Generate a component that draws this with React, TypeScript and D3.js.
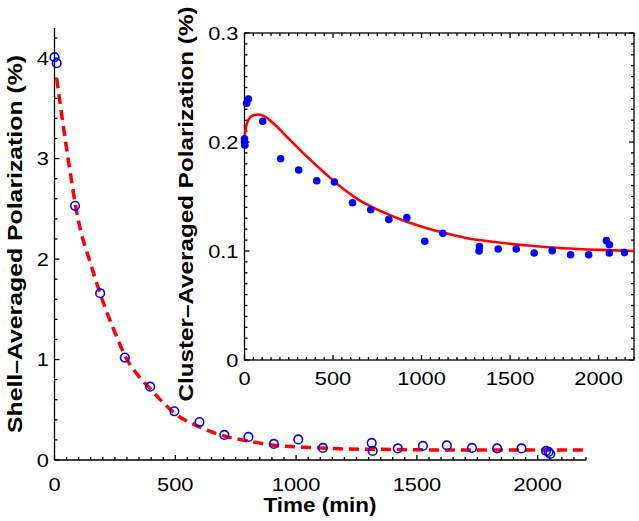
import React from "react";
import * as d3 from "d3";

// Main chart: shell-averaged polarization (open circles) and dashed fit
const mainTime = [0, 9, 85, 189, 291, 396, 496, 600, 703, 803, 908, 1009, 1111, 1313, 1317, 1421, 1525, 1624, 1728, 1832, 1933, 2035, 2045, 2052];
const mainValue = [4.01, 3.95, 2.53, 1.66, 1.02, 0.73, 0.485, 0.378, 0.25, 0.23, 0.16, 0.205, 0.12, 0.17, 0.09, 0.115, 0.14, 0.145, 0.12, 0.115, 0.115, 0.09, 0.08, 0.06];

const mainFitTime = [9, 50, 100, 150, 200, 250, 300, 350, 400, 450, 500, 600, 700, 800, 900, 1000, 1100, 1200, 1400, 1600, 2000, 2200];
const mainFitValue = [3.8, 3.1, 2.37, 1.95, 1.58, 1.27, 1.0, 0.83, 0.7, 0.57, 0.46, 0.33, 0.24, 0.19, 0.15, 0.13, 0.12, 0.11, 0.105, 0.1, 0.1, 0.1];

// Inset: cluster-averaged polarization (filled dots) and solid fit
const insetTime = [0, 0, 2, 12, 22, 103, 204, 306, 408, 508, 610, 713, 815, 917, 1018, 1120, 1327, 1325, 1433, 1535, 1636, 1738, 1842, 1944, 2044, 2061, 2061, 2146];
const insetValue = [0.203, 0.2, 0.197, 0.2355, 0.2394, 0.219, 0.1847, 0.1743, 0.1645, 0.1633, 0.1443, 0.1379, 0.129, 0.1306, 0.109, 0.1162, 0.104, 0.1, 0.1018, 0.1018, 0.0982, 0.1003, 0.0966, 0.0966, 0.1095, 0.1058, 0.0982, 0.0985];

const insetFitTime = [0, 10, 25, 50, 80, 120, 170, 250, 350, 450, 550, 600, 650, 700, 750, 800, 850, 950, 1050, 1150, 1250, 1400, 1600, 1800, 2000, 2200];
const insetFitValue = [0.205, 0.215, 0.221, 0.2245, 0.2252, 0.2228, 0.216, 0.203, 0.187, 0.172, 0.158, 0.152, 0.1465, 0.142, 0.138, 0.1345, 0.131, 0.125, 0.12, 0.1158, 0.112, 0.1085, 0.105, 0.1025, 0.101, 0.1];

const mainXTicks = [0, 500, 1000, 1500, 2000];
const mainYTicks = [0, 1, 2, 3, 4];
const insetXTicks = [0, 500, 1000, 1500, 2000];
const insetYTicks = [0, 0.1, 0.2, 0.3];
const insetYLabels = ["0", "0.1", "0.2", "0.3"];

const FONT = "'Liberation Sans', Arial, Helvetica, sans-serif";
const SX = 1.18;

export default function App() {
  const x = d3.scaleLinear().domain([0, 2200]).range([54.5, 586]);
  const y = d3.scaleLinear().domain([0, 4.3]).range([460, 28]);
  const ix = d3.scaleLinear().domain([0, 2200]).range([244.5, 634]);
  const iy = d3.scaleLinear().domain([0, 0.3]).range([360, 33]);

  const mainLine = d3
    .line<number>()
    .x((_, i) => x(mainFitTime[i]))
    .y((d) => y(d))
    .curve(d3.curveMonotoneX);
  const insetLine = d3
    .line<number>()
    .x((_, i) => ix(insetFitTime[i]))
    .y((d) => iy(d))
    .curve(d3.curveMonotoneX);

  const minorX = d3.range(0, 2201, 50);
  const minorY = d3.range(0, 4.31, 0.2);
  const minorIY = d3.range(0, 0.3001, 0.01);

  const tickText = (tx: number, ty: number, s: string, anchor: string, key: string) => (
    <text
      key={key}
      transform={`translate(${tx},${ty}) scale(${SX},1)`}
      textAnchor={anchor as any}
      fontFamily={FONT}
      fontSize={18.5}
      fill="#000"
    >
      {s}
    </text>
  );

  return (
    <svg
      width={639}
      height={521}
      style={{ position: "absolute", left: 0, top: 0, background: "#fff" }}
    >
      <rect x={0} y={0} width={639} height={521} fill="#fff" />

      {/* Main axes */}
      <g stroke="#000" strokeWidth={1.3}>
        <line x1={x(0)} x2={x(2200)} y1={y(0)} y2={y(0)} />
        <line x1={x(0)} x2={x(0)} y1={y(0)} y2={y(4.3)} />
        {minorX.map((t) => (
          <line key={"mx" + t} x1={x(t)} x2={x(t)} y1={y(0)} y2={y(0) - (t % 500 === 0 ? 5 : 3)} />
        ))}
        {minorY.map((v, i) => (
          <line key={"my" + i} x1={x(0)} x2={x(0) + (i % 5 === 0 ? 5 : 3)} y1={y(v)} y2={y(v)} />
        ))}
      </g>
      {mainXTicks.map((t) => tickText(x(t), 491, String(t), "middle", "mxt" + t))}
      {mainYTicks.map((v) => tickText(49, y(v) + 6.5, String(v), "end", "myt" + v))}

      <text
        transform={`translate(22,${244}) rotate(-90)`}
        textAnchor="middle"
        fontFamily={FONT}
        fontWeight="bold"
        fontSize={21}
        textLength={378}
        lengthAdjust="spacingAndGlyphs"
      >
        Shell–Averaged Polarization (%)
      </text>
      <text
        x={320}
        y={512}
        textAnchor="middle"
        fontFamily={FONT}
        fontWeight="bold"
        fontSize={21}
        textLength={113}
        lengthAdjust="spacingAndGlyphs"
      >
        Time (min)
      </text>

      {/* Main fit and data */}
      <path
        d={mainLine(mainFitValue) || ""}
        fill="none"
        stroke="#ff0000"
        strokeWidth={3.5}
        strokeDasharray="10,6"
      />
      {mainValue.map((v, i) => (
        <circle key={"mc" + i} cx={x(mainTime[i])} cy={y(v)} r={4.3} fill="none" stroke="#0000ff" strokeWidth={1.6} />
      ))}

      {/* Inset */}
      <g stroke="#000" strokeWidth={1.3}>
        <rect x={ix(0)} y={iy(0.3)} width={ix(2200) - ix(0)} height={iy(0) - iy(0.3)} fill="none" />
        {minorX.map((t) => {
          const len = t % 500 === 0 ? 5 : 3;
          return (
            <g key={"ix" + t}>
              <line x1={ix(t)} x2={ix(t)} y1={iy(0)} y2={iy(0) - len} />
              <line x1={ix(t)} x2={ix(t)} y1={iy(0.3)} y2={iy(0.3) + len} />
            </g>
          );
        })}
        {minorIY.map((v, i) => {
          const len = i % 10 === 0 ? 5 : 3;
          return (
            <g key={"iy" + i}>
              <line x1={ix(0)} x2={ix(0) + len} y1={iy(v)} y2={iy(v)} />
              <line x1={ix(2200)} x2={ix(2200) - len} y1={iy(v)} y2={iy(v)} />
            </g>
          );
        })}
      </g>
      {insetXTicks.map((t) => tickText(ix(t), 385, String(t), "middle", "ixt" + t))}
      {insetYTicks.map((v, i) => tickText(238.5, iy(v) + 6.5, insetYLabels[i], "end", "iyt" + i))}

      <text
        transform={`translate(193,${204}) rotate(-90)`}
        textAnchor="middle"
        fontFamily={FONT}
        fontWeight="bold"
        fontSize={21}
        textLength={395}
        lengthAdjust="spacingAndGlyphs"
      >
        Cluster–Averaged Polarization (%)
      </text>

      <path d={insetLine(insetFitValue) || ""} fill="none" stroke="#ff0000" strokeWidth={2.6} />
      {insetValue.map((v, i) => (
        <circle key={"ic" + i} cx={ix(insetTime[i])} cy={iy(v)} r={3.8} fill="#0000ff" />
      ))}
    </svg>
  );
}
